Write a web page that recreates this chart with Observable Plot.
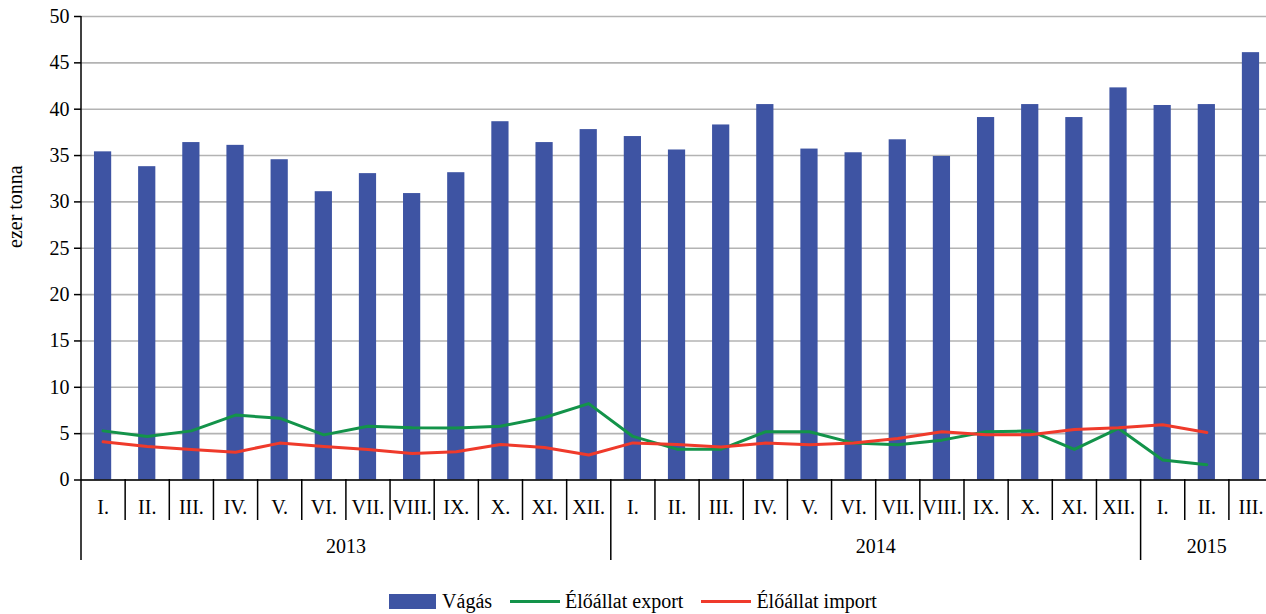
<!DOCTYPE html>
<html>
<head>
<meta charset="utf-8">
<script src="https://cdn.jsdelivr.net/npm/d3@7"></script>
<script src="https://cdn.jsdelivr.net/npm/@observablehq/plot@0.6"></script>
<style>
  html, body { margin: 0; padding: 0; background: #fff; overflow: hidden; }
  #chart { width: 1266px; }
  #chart svg text { font-family: "Liberation Serif", "Times New Roman", serif; }
  .legend { display: flex; justify-content: center; align-items: center; height: 34px; margin-top: 4px;
    font-family: "Liberation Serif", "Times New Roman", serif; font-size: 20px; color: #000; }
  .legend .item { display: flex; align-items: center; margin: 0 9px; }
  .legend .sw-rect { width: 47px; height: 15px; background: #3e54a3; margin-right: 6px; }
  .legend .sw-line { width: 50px; height: 3px; margin-right: 5px; }
</style>
</head>
<body>
<div id="chart"></div>
<script>
const months = ["I.","II.","III.","IV.","V.","VI.","VII.","VIII.","IX.","X.","XI.","XII.",
                "I.","II.","III.","IV.","V.","VI.","VII.","VIII.","IX.","X.","XI.","XII.",
                "I.","II.","III."];
const years = ["2013", "2014", "2015"];
const yearCounts = [12, 12, 3];
const vagas = [35.4, 33.8, 36.4, 36.1, 34.55, 31.1, 33.05, 30.9, 33.15, 38.65, 36.4, 37.8,
               37.05, 35.6, 38.3, 40.5, 35.7, 35.3, 36.7, 34.9, 39.1, 40.5, 39.1, 42.3,
               40.4, 40.5, 46.1];
const eloExport = [5.3, 4.7, 5.3, 7.0, 6.67, 4.87, 5.8, 5.63, 5.6, 5.8, 6.74, 8.24,
                   4.7, 3.33, 3.33, 5.2, 5.2, 3.98, 3.8, 4.3, 5.2, 5.3, 3.3, 5.56,
                   2.15, 1.65, null];
const eloImport = [4.12, 3.62, 3.3, 3.0, 3.98, 3.62, 3.3, 2.87, 3.05, 3.84, 3.5, 2.69,
                   4.0, 3.84, 3.55, 3.98, 3.8, 3.98, 4.48, 5.2, 4.87, 4.87, 5.45, 5.63,
                   5.95, 5.13, null];
const yTicks = [0, 5, 10, 15, 20, 25, 30, 35, 40, 45, 50];

const BAR = "#3e54a3", GREEN = "#13934a", RED = "#ef3a2b";

const data = months.map((m, i) => ({i, month: m, vagas: vagas[i], exp: eloExport[i], imp: eloImport[i]}));

const bounds = [0];
yearCounts.forEach(c => bounds.push(bounds[bounds.length - 1] + c));
const yearCenters = years.map((y, k) => (bounds[k] + bounds[k + 1]) / 2);
const sepTicks = d3.range(0, months.length + 1).filter(t => !bounds.includes(t));

const font = "Liberation Serif";
const step = 44.15;
const x0 = 80.5;

const chart = Plot.plot({
  width: 1266,
  height: 580,
  marginTop: 16,
  marginBottom: 101,
  marginLeft: 81,
  marginRight: 0,
  style: {fontFamily: font, fontSize: "20px", color: "#000", background: "#fff", overflow: "visible"},
  x: {type: "linear", domain: [0, months.length], range: [x0, x0 + months.length * step]},
  y: {domain: [0, 50], range: [479.5, 16]},
  marks: [
    Plot.gridY(yTicks, {stroke: "#b3b3b3", strokeOpacity: 1, strokeWidth: 1.6}),
    Plot.rectY(data, {x1: d => d.i + 0.305, x2: d => d.i + 0.695, y: "vagas", fill: BAR}),
    Plot.line(data.filter(d => d.exp != null), {x: d => d.i + 0.5, y: "exp", stroke: GREEN, strokeWidth: 3}),
    Plot.line(data.filter(d => d.imp != null), {x: d => d.i + 0.5, y: "imp", stroke: RED, strokeWidth: 3}),
    Plot.ruleY([0], {stroke: "#000", strokeWidth: 1.5}),
    Plot.ruleX([0], {stroke: "#000", strokeWidth: 1.5}),
    Plot.axisY({ticks: yTicks, tickSize: 7, tickPadding: 5, label: null, stroke: "#000", strokeWidth: 1.5, fontSize: 20, fontFamily: font}),
    Plot.axisX({ticks: sepTicks, tickSize: 41, tickFormat: () => "", label: null, stroke: "#000", strokeWidth: 1.5}),
    Plot.axisX({ticks: bounds, tickSize: 81, tickFormat: () => "", label: null, stroke: "#000", strokeWidth: 1.5}),
    Plot.axisX({ticks: data.map(d => d.i + 0.5), tickSize: 0, tickPadding: 20, tickFormat: t => months[Math.floor(t)], label: null, fontSize: 20, fontFamily: font}),
    Plot.axisX({ticks: yearCenters, tickSize: 0, tickPadding: 59, tickFormat: t => years[yearCenters.indexOf(t)], label: null, fontSize: 20, fontFamily: font}),
    Plot.text(["ezer tonna"], {frameAnchor: "left", dx: -66, rotate: -90, fontSize: 20, fontFamily: font, fill: "#000"})
  ]
});

const root = document.getElementById("chart");
root.appendChild(chart);

const legend = document.createElement("div");
legend.className = "legend";
legend.innerHTML = `
  <div class="item"><div class="sw-rect"></div><span>Vágás</span></div>
  <div class="item"><div class="sw-line" style="background:${GREEN}"></div><span>Élőállat export</span></div>
  <div class="item"><div class="sw-line" style="background:${RED}"></div><span>Élőállat import</span></div>`;
root.appendChild(legend);
</script>
</body>
</html>
